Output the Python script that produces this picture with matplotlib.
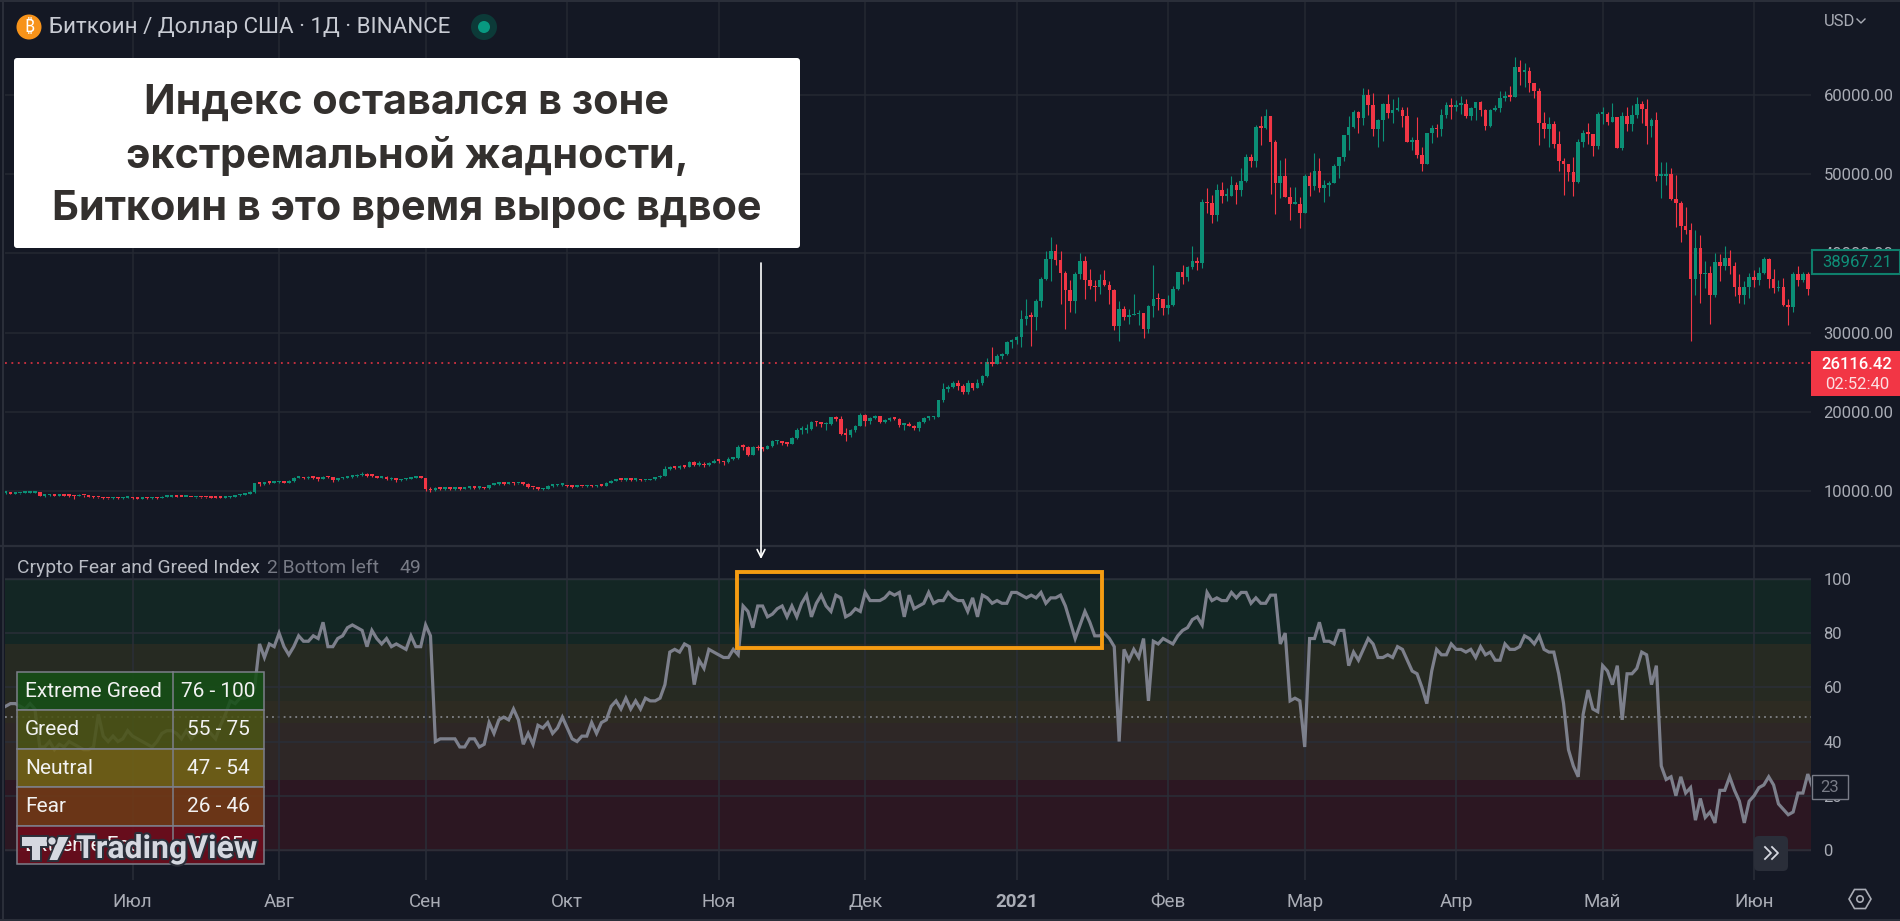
#script to redraw the BTC daily chart with the Crypto Fear and Greed Index pane below it

import numpy as np
import matplotlib
matplotlib.use('Agg')
import matplotlib.pyplot as plt
from matplotlib.patches import Rectangle, FancyBboxPatch, Circle, RegularPolygon, Polygon
import matplotlib.patheffects as pe

plt.rcParams['font.family'] = ['Roboto', 'DejaVu Sans']

#bars per month as they sit on the time axis, and the month labels
month_lengths = [26, 30, 30, 29, 31, 30, 31, 31, 28, 31, 30, 31, 13]
month_labels = ['Июл', 'Авг', 'Сен', 'Окт', 'Ноя', 'Дек', '2021', 'Фев', 'Мар', 'Апр', 'Май', 'Июн']

price_ticks = [10000, 20000, 30000, 40000, 50000, 60000]
index_ticks = [0, 20, 40, 60, 80, 100]

#daily candles, one row per month
closes = [
    9800, 9680, 9720, 9740, 9760, 9780, 9850, 9400, 9450, 9480, 9420, 9470, 9430, 9360, 9340, 9500, 9480, 9300, 9220, 9180, 9100, 9060, 9110, 9060, 9140, 9180,
    9100, 9050, 9200, 9080, 9130, 9100, 9250, 9250, 9300, 9260, 9240, 9250, 9230, 9240, 9200, 9180, 9160, 9150, 9140, 9180, 9300, 9450, 9520, 9600, 9850, 10950, 10900, 11100, 11050, 11100,
    11150, 11050, 11250, 11700, 11750, 11600, 11750, 11650, 11550, 11800, 11750, 11400, 11600, 11700, 11800, 11850, 12000, 12200, 11950, 11900, 11700, 11800, 11500, 11700, 11350, 11500, 11550, 11650, 11700, 11680,
    10200, 10100, 10350, 10250, 10400, 10250, 10350, 10300, 10400, 10450, 10400, 10500, 10350, 10750, 10900, 10950, 10900, 11050, 10950, 10950, 10900, 10500, 10450, 10200, 10300, 10650, 10700, 10750, 10780,
    10620, 10550, 10650, 10600, 10750, 10600, 10700, 10680, 11050, 11300, 11400, 11380, 11500, 11430, 11500, 11330, 11360, 11500, 11750, 11900, 12800, 12980, 12950, 13100, 13050, 13650, 13300, 13450, 13250, 13550, 13800,
    13780, 13620, 14050, 14150, 15600, 15580, 14550, 15500, 15380, 15300, 15700, 16300, 16350, 16000, 15970, 16750, 17700, 17750, 17800, 18700, 18680, 18400, 18400, 19400, 19150, 17200, 17100, 17750, 18200, 19650,
    18800, 19200, 19450, 18700, 19000, 19150, 19100, 18350, 18350, 18250, 17900, 18700, 19250, 19300, 19400, 21490, 22880, 23130, 23700, 23300, 22500, 23600, 23050, 23600, 24500, 26330, 26100, 27000, 27300, 28820, 29070,
    29400, 31680, 32100, 32000, 34030, 36770, 39250, 40350, 39170, 37570, 35380, 34000, 37400, 39100, 36700, 35930, 35700, 36630, 36000, 35400, 30850, 33000, 32000, 32200, 32300, 32450, 30400, 33400, 34300, 34200, 33100,
    33500, 35500, 37700, 37000, 38300, 39100, 38800, 46500, 46350, 44860, 48000, 47300, 47300, 48650, 48000, 49150, 52150, 51700, 55930, 55900, 57400, 54100, 48860, 49800, 47170, 46300, 46300, 45150,
    49800, 48560, 50450, 48300, 48650, 48860, 51050, 52200, 54950, 55930, 57800, 57050, 60000, 58750, 55700, 56850, 58840, 57700, 58150, 58150, 57400, 54100, 54300, 52400, 51300, 55170, 55800, 55700, 57490, 58750, 58530,
    58750, 58840, 57300, 58300, 59100, 58150, 56150, 58150, 58300, 59580, 59880, 59770, 63600, 62960, 63000, 61480, 60450, 56420, 55700, 56400, 53800, 51700, 51250, 50300, 49050, 54100, 55170, 55100, 53600, 57600,
    57600, 56650, 57200, 53300, 57300, 56350, 57500, 58900, 58250, 56100, 56850, 49800, 49800, 50000, 46830, 46400, 43500, 42970, 36800, 40730, 37370, 37500, 34750, 38960, 38400, 39370, 38400, 35700, 34750, 35700, 37050,
    36650, 37500, 39250, 36800, 35600, 35700, 33500, 33280, 37400, 36650, 37400, 35500, 38960,
]
highs = [
    9900, 9850, 9800, 9800, 9850, 9850, 9980, 9900, 9550, 9600, 9550, 9550, 9500, 9450, 9500, 9600, 9550, 9480, 9330, 9290, 9200, 9150, 9200, 9180, 9200, 9250,
    9190, 9150, 9250, 9220, 9180, 9200, 9370, 9350, 9400, 9320, 9290, 9300, 9280, 9300, 9280, 9220, 9200, 9200, 9180, 9220, 9350, 9480, 9600, 9700, 9950, 11050, 11050, 11200, 11150, 11250,
    11300, 11200, 11400, 11780, 11900, 11800, 11850, 11800, 11720, 11900, 11950, 11800, 11700, 11800, 11900, 11950, 12100, 12460, 12300, 12000, 11950, 11900, 11850, 11780, 11700, 11550, 11620, 11750, 11800, 11800,
    11700, 10500, 10500, 10400, 10480, 10400, 10400, 10450, 10480, 10550, 10500, 10600, 10550, 10800, 10980, 11050, 11000, 11180, 11100, 11030, 11000, 10950, 10550, 10450, 10350, 10720, 10780, 10850, 10850,
    10700, 10650, 10680, 10650, 10800, 10780, 10720, 10800, 11100, 11350, 11450, 11450, 11550, 11550, 11600, 11420, 11450, 11550, 11800, 12000, 13200, 13100, 13150, 13250, 13200, 13800, 13850, 13800, 13650, 13700, 14050,
    14100, 13850, 14250, 14300, 15750, 15950, 15700, 15650, 15800, 15500, 15850, 16400, 16480, 16350, 16150, 16850, 17900, 18250, 18450, 18900, 18850, 18750, 18700, 19400, 19480, 19450, 17900, 17800, 18350, 19850,
    19700, 19350, 19600, 19500, 19150, 19300, 19400, 19200, 18600, 18750, 18350, 18900, 19350, 19450, 19500, 21550, 23700, 23400, 23950, 24050, 23450, 24000, 23650, 24100, 24600, 26850, 28200, 27300, 27450, 29000, 29250,
    29600, 32860, 34240, 32650, 34300, 36970, 40350, 42080, 41200, 40250, 37730, 36700, 37700, 40000, 39700, 38050, 36650, 37400, 37850, 36550, 35550, 33950, 33400, 33000, 34900, 32860, 32500, 33450, 38600, 35000, 34300,
    34800, 35900, 37700, 38600, 38400, 40950, 39500, 46870, 48230, 47400, 48730, 49000, 48230, 49800, 49000, 50750, 52550, 52550, 56250, 57400, 58200, 57400, 54300, 51800, 52000, 48430, 48430, 47100,
    50000, 50300, 52700, 52000, 49300, 49200, 51300, 52200, 54950, 57400, 58050, 58000, 60950, 60700, 60200, 57000, 58950, 60100, 59500, 59800, 58550, 58450, 54700, 57200, 53500, 55200, 56250, 56400, 58200, 59150, 59600,
    59400, 59900, 59500, 58450, 59150, 59300, 58200, 58250, 58800, 60550, 60550, 61200, 64780, 64400, 64000, 63500, 61500, 60860, 57900, 57200, 56770, 55400, 52020, 51300, 52200, 54400, 55600, 56440, 54960, 57800,
    58450, 57900, 59050, 57250, 57900, 58450, 58750, 59700, 59300, 59500, 57050, 57900, 51600, 51500, 50800, 49900, 46650, 45800, 43900, 42900, 42300, 39000, 38400, 40100, 39900, 40950, 40400, 38900, 37400, 36550, 37550,
    37850, 38250, 39500, 39400, 38050, 36650, 36850, 34200, 37600, 38400, 37700, 37700, 39600,
]
lows = [
    9650, 9600, 9650, 9650, 9700, 9720, 9750, 9350, 9300, 9350, 9350, 9380, 9350, 9300, 8950, 9320, 9250, 9250, 9150, 9100, 9020, 9000, 9000, 9000, 9000, 9100,
    9050, 9000, 9020, 9030, 9050, 9050, 9080, 9180, 9200, 9200, 9180, 9180, 9180, 9150, 9150, 9120, 9100, 9100, 9100, 9120, 9130, 9280, 9400, 9480, 9580, 9800, 10600, 10800, 10900, 10980,
    11000, 10950, 11050, 11200, 11600, 11500, 11550, 11550, 11300, 11500, 11600, 11200, 11300, 11500, 11680, 11700, 11750, 11950, 11800, 11750, 11600, 11600, 11400, 11450, 11200, 11250, 11400, 11480, 11580, 11600,
    10000, 9900, 9950, 10100, 10100, 10150, 10150, 10180, 10250, 10300, 10280, 10300, 10250, 10300, 10700, 10800, 10780, 10850, 10800, 10850, 10750, 10400, 10300, 10150, 10150, 10250, 10550, 10600, 10650,
    10500, 10400, 10500, 10520, 10550, 10550, 10550, 10620, 10650, 11000, 11220, 11250, 11300, 11280, 11300, 11220, 11250, 11350, 11450, 11700, 11850, 12700, 12750, 12800, 12900, 13000, 13100, 13200, 13050, 13150, 13500,
    13550, 13300, 13550, 13900, 14050, 15200, 14400, 14600, 15150, 15100, 15250, 15600, 15950, 15750, 15700, 15900, 16600, 17200, 17350, 17700, 18200, 18100, 17700, 18350, 18900, 17100, 16350, 16800, 17500, 18200,
    18250, 18500, 19050, 18550, 18600, 18900, 18950, 18100, 17700, 18150, 17650, 17600, 18600, 19000, 19050, 19300, 21200, 22450, 23000, 22700, 22200, 22300, 22700, 23000, 23400, 24400, 25800, 26000, 26700, 27150, 28000,
    28600, 28150, 30900, 28280, 30300, 33200, 36700, 36500, 38600, 33600, 30500, 32600, 32500, 36770, 34300, 35500, 33950, 34860, 35900, 33650, 30350, 29000, 31550, 31100, 32300, 30950, 29350, 29900, 32000, 32900, 32200,
    32300, 33400, 35400, 36200, 36500, 38000, 37900, 38150, 45100, 43800, 44150, 46350, 46560, 47200, 46200, 47300, 49000, 50950, 50900, 53700, 55700, 47480, 45000, 47000, 47100, 44250, 46200, 43250,
    45050, 47200, 48000, 47700, 46550, 47200, 48860, 49500, 51700, 53100, 55800, 55150, 56250, 57500, 54850, 53500, 54250, 57050, 56450, 58000, 56000, 54100, 53100, 52000, 50450, 51300, 53950, 54700, 54850, 57050, 57000,
    58000, 57600, 57050, 56800, 56900, 57400, 55600, 55950, 57950, 57800, 59300, 59200, 59700, 61300, 61000, 60400, 59600, 53700, 54550, 53500, 53300, 50350, 47400, 49100, 47200, 48950, 53500, 53850, 52300, 53150,
    56350, 56200, 56650, 53300, 53100, 55400, 55400, 57050, 56450, 53850, 54700, 49100, 47000, 48650, 46750, 43380, 41480, 42450, 29000, 34750, 33800, 35600, 31100, 34500, 36500, 37900, 37400, 34600, 33800, 33600, 34350,
    35700, 36000, 37400, 35600, 34950, 35300, 33350, 30950, 32550, 35900, 36400, 34750, 35500,
]
first_open = 9750
last_price = 26116.42

#fear and greed values per bar, one row per month
fng_values = [
    53, 54, 54, 53, 52, 54, 52, 38, 38, 40, 37, 39, 38, 40, 39, 38, 37, 37, 38, 50, 42, 40, 42, 40, 41, 44,
    42, 41, 40, 39, 38, 40, 43, 44, 44, 43, 41, 44, 41, 43, 44, 45, 43, 41, 46, 50, 55, 54, 56, 56, 57, 60, 76, 71, 76, 75,
    80, 75, 72, 75, 79, 77, 77, 79, 78, 84, 75, 75, 78, 79, 82, 83, 82, 81, 75, 81, 78, 76, 78, 75, 76, 75, 74, 79, 75, 75,
    83, 79, 40, 41, 41, 41, 41, 38, 38, 41, 41, 38, 39, 47, 43, 48, 49, 48, 52, 48, 39, 43, 39, 46, 45, 47, 43, 45, 49,
    45, 41, 40, 42, 42, 47, 43, 47, 48, 53, 55, 52, 56, 52, 55, 52, 56, 55, 55, 56, 61, 73, 74, 73, 76, 75, 61, 70, 67, 74, 73,
    72, 71, 71, 74, 72, 90, 88, 82, 90, 90, 86, 87, 89, 90, 86, 90, 86, 91, 94, 86, 91, 94, 90, 88, 94, 93, 86, 87, 89, 88,
    95, 92, 92, 92, 93, 95, 94, 95, 86, 94, 89, 90, 91, 95, 91, 92, 92, 95, 93, 92, 92, 88, 93, 86, 94, 93, 91, 92, 91, 91, 95,
    95, 94, 93, 94, 93, 95, 91, 93, 93, 94, 90, 84, 78, 83, 88, 84, 79, 79, 80, 78, 75, 40, 74, 70, 74, 71, 78, 55, 77, 76, 78,
    77, 76, 79, 81, 82, 85, 86, 83, 95, 92, 93, 92, 92, 95, 93, 95, 95, 91, 93, 91, 91, 94, 94, 76, 80, 55, 56, 55,
    38, 78, 78, 84, 77, 77, 76, 81, 81, 68, 73, 70, 74, 78, 76, 71, 71, 72, 71, 75, 74, 70, 66, 65, 60, 54, 66, 74, 72, 72, 76,
    74, 74, 73, 74, 71, 75, 72, 73, 70, 70, 76, 74, 74, 75, 79, 78, 76, 79, 74, 73, 73, 65, 54, 37, 31, 27, 50, 59, 52, 51,
    68, 66, 61, 68, 48, 65, 65, 67, 73, 72, 61, 68, 31, 26, 27, 20, 27, 21, 23, 11, 19, 12, 14, 10, 22, 22, 27, 22, 18, 10, 18,
    20, 23, 24, 27, 24, 17, 15, 13, 14, 21, 21, 28, 23,
]
fng_level = 49

#zones of the index and the table that explains them
zone_edges = [100, 76, 55, 47, 26, 0]
zone_colors = ['#132624', '#262a22', '#2d2b22', '#2e2726', '#2c1722']
table_names = ['Extreme Greed', 'Greed', 'Neutral', 'Fear', 'Extreme Fear']
table_ranges = ['76 - 100', '55 - 75', '47 - 54', '26 - 46', '0 - 25']
table_colors = ['#164f16', '#4b5416', '#736316', '#733a16', '#700c1c']

#stretch of the index that the orange frame marks
frame_bars = [149.7, 224.4]
frame_levels = [74.6, 102.5]

BG = '#141824'
GRID = '#242832'
TXT = '#a9acb5'
UP = '#0b8f76'
DOWN = '#f23645'

W, H = 1900, 921
fig = plt.figure(figsize=(W / 100, H / 100), dpi=100, facecolor=BG)

def pane(x0, x1, y0, y1):
    return fig.add_axes([x0 / W, 1 - y1 / H, (x1 - x0) / W, (y1 - y0) / H], facecolor=BG)

ax = pane(5, 1811, 0, 545)
ax2 = pane(5, 1811, 545, 880)

closes = np.array(closes, dtype=float)
opens = np.r_[first_open, closes[:-1]]
highs = np.maximum(np.array(highs, dtype=float), np.maximum(opens, closes))
lows = np.minimum(np.array(lows, dtype=float), np.minimum(opens, closes))
bars = np.arange(len(closes))
colors = np.where(closes >= opens, UP, DOWN)

#bar positions of the month ticks come from the month lengths
tick_bars = np.cumsum(month_lengths)[:-1]

#candles
ax.vlines(bars, lows, highs, colors=colors, linewidth=0.8, zorder=3)
ax.bar(bars, np.maximum(np.abs(closes - opens), 200), bottom=np.minimum(opens, closes),
       width=0.74, color=colors, linewidth=0, zorder=4)
ax.axhline(last_price, color=DOWN, linewidth=1.1, linestyle=(0, (1.2, 3)), zorder=5)

#index pane
for i, c in enumerate(zone_colors):
    ax2.axhspan(zone_edges[i + 1], zone_edges[i], color=c, linewidth=0, zorder=0)
ax2.axhline(100, color='#2a3a3d', linewidth=1, zorder=1)
ax2.axhline(0, color='#3a2a36', linewidth=1, zorder=1)
ax2.axhline(fng_level, color='#8f9299', linewidth=1.1, linestyle=(0, (1.2, 2.6)), zorder=2)
ax2.plot(bars, fng_values, color='#7d808c', linewidth=2.3, solid_joinstyle='miter', zorder=3)
ax2.add_patch(Rectangle((frame_bars[0], frame_levels[0]), frame_bars[1] - frame_bars[0],
                        frame_levels[1] - frame_levels[0], fill=False, edgecolor='#f59c12',
                        linewidth=2.8, joinstyle='miter', clip_on=False, zorder=6))

#both panes share bar spacing and grid
for a in (ax, ax2):
    a.set_xlim(-0.12, 369.66)
    a.set_xticks(tick_bars)
    a.grid(True, color=GRID, linewidth=1.1, zorder=1)
    a.set_axisbelow(False)
    for s in a.spines.values():
        s.set_visible(False)
    a.yaxis.tick_right()
    a.tick_params(length=0, labelcolor=TXT)
    a.tick_params(axis='y', labelsize=12, pad=9)
    a.tick_params(axis='x', labelsize=13.5, pad=9)

ax.set_ylim(3182, 72000)
ax.set_yticks(price_ticks)
ax.set_yticklabels(['%.2f' % p for p in price_ticks])
ax.tick_params(labelbottom=False)

ax2.set_ylim(-11.07, 112.5)
ax2.set_yticks(index_ticks)
ax2.set_xticklabels(month_labels)
for lab in ax2.get_xticklabels():
    if lab.get_text() == '2021':
        lab.set_fontweight('bold')
ax2.grid(True, color='#2a2e38', linewidth=1.1, zorder=1)

#everything that sits on top of the panes goes on a pixel overlay
ov = fig.add_axes([0, 0, 1, 1], facecolor='none', zorder=10)
ov.set_xlim(0, W)
ov.set_ylim(H, 0)
ov.axis('off')

#pane borders
ov.plot([0, W], [545.5, 545.5], color='#2a2e39', linewidth=1.6)
ov.plot([0, W], [920, 920], color='#2a2e39', linewidth=1.5)
ov.plot([3, 3], [0, H], color='#2a2e39', linewidth=1.5)
ov.plot([0, W], [1, 1], color='#2a2e39', linewidth=1.5)

#header
ov.add_patch(Circle((29, 27), 12.5, color='#f7931a', linewidth=0))
ov.text(29, 27, '₿', color='white', fontsize=12.5, ha='center', va='center',
        family=['Noto Sans', 'Inter', 'Open Sans', 'Lato', 'Roboto', 'DejaVu Sans'], fontweight='bold')
ov.text(49, 27, 'Биткоин / Доллар США · 1Д · BINANCE', color='#c8cbd3', fontsize=16.1, va='center')
ov.add_patch(Circle((484, 27), 13, color='#0c3a38', linewidth=0))
ov.add_patch(Circle((484, 27), 6, color='#089981', linewidth=0))
ov.text(1840, 21, 'USD', color=TXT, fontsize=12, va='center', ha='center')
ov.plot([1857, 1861, 1865], [19, 23, 19], color=TXT, linewidth=1)

#white callout and arrow
ov.add_patch(FancyBboxPatch((16, 60), 782, 186, boxstyle='round,pad=2,rounding_size=3',
                            facecolor='white', edgecolor='none', zorder=3))
for y, line in zip([103, 156, 209], ['Индекс оставался в зоне', 'экстремальной жадности,', 'Биткоин в это время вырос вдвое']):
    ov.text(407, y, line, color='#33302e', fontsize=29.8, fontweight='bold', family=['Inter', 'DejaVu Sans'],
            ha='center', va='center', zorder=4)
ov.annotate('', xy=(761, 559), xytext=(761, 263),
            arrowprops=dict(arrowstyle='->,head_width=0.28,head_length=0.55', color='white', linewidth=1.2, shrinkA=0, shrinkB=0))

#pane legend
ov.text(17, 568, 'Crypto Fear and Greed Index', color='#b8bbc3', fontsize=13.9, va='center')
ov.text(267, 568, '2 Bottom left', color='#787b86', fontsize=13.9, va='center')
ov.text(400, 568, '49', color='#787b86', fontsize=13.9, va='center')

#zone table, slightly see-through so the index line shows under it
row_y = [672, 710, 749, 787, 826, 864]
for i, name in enumerate(table_names):
    y0, y1 = row_y[i], row_y[i + 1]
    ov.add_patch(Rectangle((17, y0), 247, y1 - y0, facecolor=table_colors[i], edgecolor='none',
                           alpha=0.88, zorder=5))
    ov.add_patch(Rectangle((17, y0), 247, y1 - y0, fill=False, edgecolor='#7c7f8a', linewidth=1.1, zorder=5))
    ov.text(25, (y0 + y1) / 2, name, color='#f2f2f2', fontsize=15, va='center', zorder=6)
    ov.text(218, (y0 + y1) / 2, table_ranges[i], color='#f2f2f2', fontsize=15, ha='center', va='center', zorder=6)
ov.plot([173, 173], [672, 864], color='#7c7f8a', linewidth=1.1, zorder=6)

#TradingView mark over the table
stroke = [pe.withStroke(linewidth=3, foreground='#2a2e39')]
logo = '#d5d8e0'
for poly in ([(21, 836), (48, 836), (48, 847), (41, 847), (41, 861), (31, 861), (31, 847), (21, 847)],
             [(48, 861), (58, 836), (70, 836), (58, 861)]):
    ov.add_patch(Polygon(poly, facecolor=logo, edgecolor='#2a2e39', linewidth=1.4, zorder=7))
ov.add_patch(Circle((52, 841), 4.5, facecolor=logo, edgecolor='#2a2e39', linewidth=1.2, zorder=7))
ov.text(76, 849, 'TradingView', color=logo, fontsize=23, fontweight='bold',
        va='center', zorder=7, path_effects=stroke)

#price labels on the right scale
ov.add_patch(Rectangle((1811.5, 249.5), 88, 24, facecolor=BG, edgecolor='#0f7f6c', linewidth=1.5, zorder=5))
ov.text(1857, 262, '38967.21', color='#0f8f78', fontsize=12, ha='center', va='center', zorder=6)
ov.add_patch(Rectangle((1811, 351), 89, 45, facecolor=DOWN, edgecolor='none', zorder=5))
ov.text(1857, 364, '26116.42', color='white', fontsize=12, fontweight='medium', ha='center', va='center', zorder=6)
ov.text(1857, 384, '02:52:40', color='#fbdfe2', fontsize=12, ha='center', va='center', zorder=6)
ov.add_patch(Rectangle((1812, 775), 36, 24, facecolor=BG, edgecolor='#787b86', linewidth=1, zorder=5))
ov.text(1830, 787.5, '23', color='#787b86', fontsize=12, ha='center', va='center', zorder=6)

#scroll button and settings icon
ov.add_patch(FancyBboxPatch((1757, 839), 28, 29, boxstyle='round,pad=3,rounding_size=5',
                            facecolor='#2a2e39', edgecolor='none', zorder=5))
for dx in (0, 7):
    ov.plot(np.array([1765, 1771, 1765]) + dx, [847, 853, 859], color='#d5d8e0', linewidth=1.3, zorder=6)
ov.add_patch(RegularPolygon((1860, 899), 6, radius=11, orientation=np.pi / 6, fill=False, edgecolor=TXT, linewidth=1.2))
ov.add_patch(Circle((1860, 899), 3.2, fill=False, edgecolor=TXT, linewidth=1.2))

fig.savefig('out.png', dpi=100, facecolor=BG)
